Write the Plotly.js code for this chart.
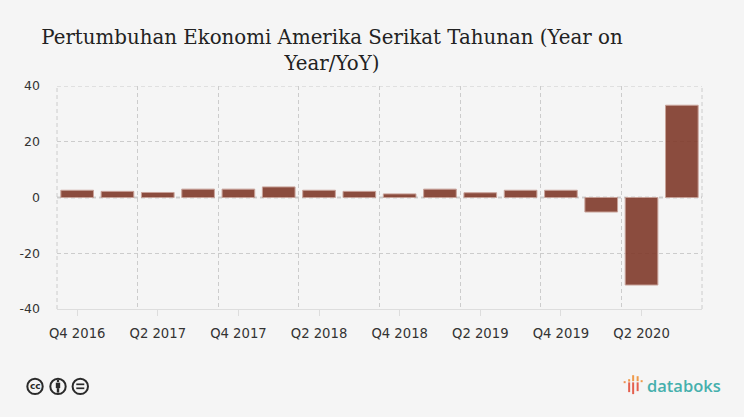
<!DOCTYPE html>
<html><head><meta charset="utf-8">
<script src="https://cdn.plot.ly/plotly-3.0.1.min.js"></script>
<style>html,body{margin:0;padding:0;background:#f5f5f5}#c{width:744px;height:417px}</style></head>
<body><div id="c"></div>
<script>
const categories=["Q4 2016","Q1 2017","Q2 2017","Q3 2017","Q4 2017","Q1 2018","Q2 2018","Q3 2018","Q4 2018","Q1 2019","Q2 2019","Q3 2019","Q4 2019","Q1 2020","Q2 2020","Q3 2020"];
const growth=[2.6,2.2,1.8,3.0,3.0,3.8,2.6,2.2,1.3,3.0,1.7,2.6,2.6,-5.2,-31.4,33.1];
const tickLabels=["Q4 2016","Q2 2017","Q4 2017","Q2 2018","Q4 2018","Q2 2019","Q4 2019","Q2 2020"];
const boundaries=[-0.5,1.5,3.5,5.5,7.5,9.5,11.5,13.5,15.5];
const W=744,H=417,L=57,R=41.6,T=85.5,B=107.5;
const px=x=>(x-L)/(W-L-R), py=y=>1-(y-T)/(H-T-B);
const P=o=>Object.assign({xref:'paper',yref:'paper'},o,{x0:px(o.x0),x1:px(o.x1),y0:py(o.y0),y1:py(o.y1)});
const ink='#2a2a2a', grid='#cccccc', dash='4px,3px';
const edge=(o)=>Object.assign({type:'line',layer:'below',line:{color:grid,width:1,dash}},o);
const shapes=[
 edge({xref:'paper',yref:'y',x0:0,x1:1,y0:40,y1:40}),
 edge({xref:'paper',yref:'paper',x0:0,x1:0,y0:0,y1:1}),
 edge({xref:'paper',yref:'paper',x0:1,x1:1,y0:0,y1:1}),
 {type:'line',xref:'paper',yref:'y',x0:0,x1:1,y0:0,y1:0,layer:'below',line:{color:'#aaaaaa',width:1.3,dash}},
 ...[35,58,80.3].map(c=>P({type:'circle',x0:c-7.7,x1:c+7.7,y0:387.3-7.7,y1:387.3+7.7,line:{color:ink,width:2},fillcolor:'rgba(0,0,0,0)'})),
 P({type:'circle',x0:56.7,x1:59.3,y0:380.5,y1:383.1,line:{width:0},fillcolor:ink}),
 P({type:'rect',x0:55.8,x1:60.2,y0:383.5,y1:389,line:{width:0},fillcolor:ink}),
 P({type:'rect',x0:56.8,x1:59.2,y0:389,y1:393.5,line:{width:0},fillcolor:ink}),
 P({type:'rect',x0:76.3,x1:84.3,y0:384.3,y1:386,line:{width:0},fillcolor:ink}),
 P({type:'rect',x0:76.3,x1:84.3,y0:388.3,y1:390,line:{width:0},fillcolor:ink}),
 ...[[624,626,382,384,'#ef8f50'],[628.5,630.5,380,382.4,'#ef9a4a'],[628.5,630.5,383.2,393,'#e4604f'],[632.5,634.5,376,382,'#ef9a4a'],[632.5,634.5,383.2,395,'#e4604f'],[637,639,377,382,'#ef9a4a'],[637,639,383.2,392,'#e4604f'],[641,643,381,383,'#ef9a4a']]
   .map(b=>P({type:'rect',x0:b[0],x1:b[1],y0:b[2],y1:b[3],line:{width:0},fillcolor:b[4]}))
];
Plotly.newPlot('c',[{type:'bar',x:categories,y:growth,width:0.81,
  marker:{color:'#803a2b',opacity:0.9,line:{color:'#c49a90',width:1}}}],{
 width:W,height:H,paper_bgcolor:'#f5f5f5',plot_bgcolor:'#f5f5f5',showlegend:false,
 margin:{l:L,r:R,t:T,b:B,pad:0},
 font:{family:'"DejaVu Sans",sans-serif',color:'#333333',size:12.5},
 title:{text:'Pertumbuhan Ekonomi Amerika Serikat Tahunan (Year on<br>Year/YoY)',x:332/W,xanchor:'center',y:1-44/H,yanchor:'middle',
   font:{family:'"DejaVu Serif",serif',size:19.8,color:'#222222'}},
 xaxis:{type:'category',categoryorder:'array',categoryarray:categories,range:[-0.5,15.5],tickmode:'array',tickvals:tickLabels,ticktext:tickLabels,
   tickfont:{size:13.2},ticklabelstandoff:6,
   showgrid:false,showline:true,linecolor:'#dddddd',linewidth:1,ticks:'outside',ticklen:6,tickcolor:'#dddddd',tickangle:0,
   minor:{tickmode:'array',tickvals:boundaries,showgrid:true,gridcolor:grid,griddash:dash,gridwidth:1,ticks:''}},
 yaxis:{range:[-40,40],tickvals:[-40,-20,0,20,40],ticktext:['-40','-20','0','20','40'],showgrid:true,gridcolor:grid,griddash:dash,gridwidth:1,zeroline:false,showline:false,ticks:'',ticklabelstandoff:16},
 annotations:[
  {xref:'paper',yref:'paper',x:px(35),y:py(387.3),xanchor:'center',yanchor:'middle',text:'cc',showarrow:false,font:{family:'"DejaVu Sans",sans-serif',size:9,color:ink,weight:700}},
  {xref:'paper',yref:'paper',x:px(645),y:py(386),xanchor:'left',yanchor:'middle',text:'databoks',showarrow:false,font:{family:'"Open Sans",sans-serif',size:16.5,color:'#45b0ad',weight:600}}
 ],
 shapes
},{displayModeBar:false,staticPlot:true});
</script></body></html>
